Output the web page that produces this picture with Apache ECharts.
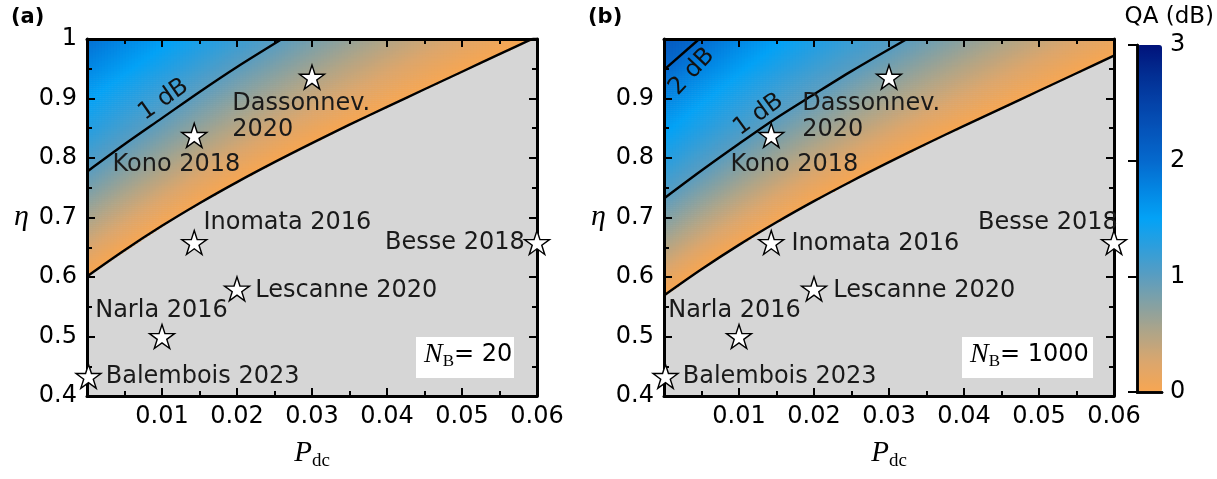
<!DOCTYPE html>
<html><head><meta charset="utf-8">
<script src="https://cdn.jsdelivr.net/npm/echarts@6/dist/echarts.min.js"></script>
<style>html,body{margin:0;padding:0;background:#fff}#c{width:1217px;height:479px}</style>
</head><body><div id="c"></div>
<script>
// ---------------- data ----------------
const experiments = ['Balembois 2023','Narla 2016','Lescanne 2020','Inomata 2016','Besse 2018','Kono 2018','Dassonnev.\n2020'];
const expPdc = [0.0002, 0.01, 0.02, 0.0143, 0.06, 0.0143, 0.03];
const expEta = [0.433, 0.50, 0.58, 0.658, 0.658, 0.838, 0.936];

const xTickValues = [0, 0.01, 0.02, 0.03, 0.04, 0.05, 0.06];
const xTickLabels = ['', '0.01', '0.02', '0.03', '0.04', '0.05', '0.06'];
const yTickValues = [0.4, 0.5, 0.6, 0.7, 0.8, 0.9, 1.0];
const yTickLabelsA = ['0.4', '0.5', '0.6', '0.7', '0.8', '0.9', '1'];
const yTickLabelsB = ['0.4', '0.5', '0.6', '0.7', '0.8', '0.9', ''];
const cbTickLabels = ['0', '1', '2', '3'];

// contour lines [Pdc, eta] (QA = 0 dB, 1 dB, 2 dB)
const contourA0 = [[0,0.601],[0.005,0.645],[0.01,0.686],[0.015,0.724],[0.02,0.7595],[0.025,0.793],[0.03,0.825],[0.035,0.856],[0.04,0.886],[0.045,0.9155],[0.05,0.945],[0.055,0.9745],[0.06,1.004]];
const contourA1 = [[0,0.777],[0.005,0.823],[0.01,0.867],[0.015,0.911],[0.02,0.953],[0.026,1.0]];
const contourB0 = [[0,0.569],[0.005,0.613],[0.01,0.654],[0.015,0.692],[0.02,0.7275],[0.025,0.761],[0.03,0.793],[0.035,0.824],[0.04,0.854],[0.045,0.8835],[0.05,0.913],[0.055,0.9425],[0.06,0.972]];
const contourB1 = [[0,0.732],[0.005,0.779],[0.01,0.824],[0.0146,0.864],[0.02,0.907],[0.025,0.946],[0.0324,1.0]];
const contourB2 = [[0,0.948],[0.0047,1.0]];
// levels lying above the frame, estimated from the colour at the top edge
const hiddenA2 = [[0,1.012],[0.01,1.106]];
const hiddenB3 = [[0,1.20],[0.01,1.30]];

const contourLabelsA = [{text:'1 dB', p:0.0102, e:0.898, rot:35}];
const contourLabelsB = [{text:'1 dB', p:0.0126, e:0.873, rot:36},{text:'2 dB', p:0.0037, e:0.945, rot:47}];

const qaColors = ['#F7A652','#DCA66C','#B2A586','#86A1A2','#5A9DC0','#2E9EDC','#03A2F6','#0386E3','#0569CD','#0555BB','#0442A8','#022D92','#01137A'];

// ---------------- build heatmap table from the contour readings ----------------
const NX = 150, NY = 180;
function interp(curve, x) {
  let i = curve.length - 2;
  for (let k = 0; k < curve.length - 1; k++) { if (x <= curve[k+1][0]) { i = k; break; } }
  const a = curve[i], b = curve[i+1];
  return a[1] + (b[1]-a[1])*(x-a[0])/(b[0]-a[0]);
}
function buildField(levels) {
  const out = [];
  for (let i = 0; i < NX; i++) {
    const p = (i + 0.5) / NX * 0.06;
    const h = levels.map(c => interp(c, p));
    for (let j = 0; j < NY; j++) {
      const e = 0.4 + (j + 0.5) / NY * 0.6;
      if (e < h[0]) continue;
      let k = 0;
      while (k < h.length - 2 && e > h[k+1]) k++;
      const v = k + (e - h[k]) / (h[k+1] - h[k]);
      out.push([i, j, +v.toFixed(3)]);
    }
  }
  return out;
}
const fieldA = buildField([contourA0, contourA1, hiddenA2]);
const fieldB = buildField([contourB0, contourB1, contourB2, hiddenB3]);
const catX = Array.from({length: NX}, (_, i) => i);
const catY = Array.from({length: NY}, (_, j) => j);

// ---------------- layout / style ----------------
const FONT = 'DejaVu Sans';
const SERIF = 'Liberation Serif';
const TXT = '#1a1a1a';
const G = {
  a: {left: 87, top: 39, width: 450, height: 357},
  b: {left: 664, top: 39, width: 450, height: 357},
  cb: {left: 1137, top: 45, width: 25, height: 347}
};
// label placement for each experiment: [position, dx, dy]
const labelPosA = {
  'Balembois 2023': ['right', 0, 0], 'Narla 2016': ['right', -84, -26], 'Lescanne 2020': ['right', 1, 2],
  'Inomata 2016': ['right', -8, -20], 'Besse 2018': ['left', 5, 0], 'Kono 2018': ['right', -99, 29],
  'Dassonnev.\n2020': ['right', -97, 40]
};
const labelPosB = {
  'Balembois 2023': ['right', 0, 0], 'Narla 2016': ['right', -88, -26], 'Lescanne 2020': ['right', 2, 2],
  'Inomata 2016': ['right', 3, 1], 'Besse 2018': ['left', 21, -20], 'Kono 2018': ['right', -58, 29],
  'Dassonnev.\n2020': ['right', -104, 40]
};
const STAR = 'path://M0,-10L2.245,-3.09L9.511,-3.09L3.633,1.18L5.878,8.09L0,3.82L-5.878,8.09L-3.633,1.18L-9.511,-3.09L-2.245,-3.09Z';

function lookup(vals, labels) {
  return v => { for (let i = 0; i < vals.length; i++) if (Math.abs(v - vals[i]) < 1e-9) return labels[i]; return ''; };
}
const frameLine = {show: true, onZero: false, lineStyle: {color: '#000', width: 3}};
const tickStyle = {show: true, inside: true, length: 8, lineStyle: {color: '#000', width: 2}};
const minorStyle = {show: true, splitNumber: 2, length: 5, lineStyle: {color: '#000', width: 2}};

function xAxesFor(gi) {
  return [
    {type: 'value', gridIndex: gi, position: 'bottom', min: 0, max: 0.06, interval: 0.01, z: 5,
     axisLine: frameLine, axisTick: tickStyle, minorTick: minorStyle, splitLine: {show: false},
     axisLabel: {formatter: lookup(xTickValues, xTickLabels), fontFamily: FONT, fontSize: 24, color: '#000', margin: 9},
     name: '{p|P}{s|dc}', nameLocation: 'middle', nameGap: 40,
     nameTextStyle: {rich: {p: {fontFamily: SERIF, fontStyle: 'italic', fontSize: 29, color: '#000'},
                            s: {fontFamily: SERIF, fontSize: 19, color: '#000', padding: [16, 0, 0, 0]}}}},
    {type: 'value', gridIndex: gi, position: 'top', min: 0, max: 0.06, interval: 0.01, z: 5,
     axisLine: frameLine, axisTick: tickStyle, minorTick: minorStyle, splitLine: {show: false}, axisLabel: {show: false}}
  ];
}
function yAxesFor(gi, labels) {
  return [
    {type: 'value', gridIndex: gi, position: 'left', min: 0.4, max: 1.0, interval: 0.1, z: 5,
     axisLine: frameLine, axisTick: tickStyle, minorTick: minorStyle, splitLine: {show: false},
     axisLabel: {formatter: lookup(yTickValues, labels), fontFamily: FONT, fontSize: 24, color: '#000', margin: 10},
     name: 'η', nameLocation: 'middle', nameRotate: 0, nameGap: 58,
     nameTextStyle: {fontFamily: SERIF, fontStyle: 'italic', fontSize: 30, color: '#000'}},
    {type: 'value', gridIndex: gi, position: 'right', min: 0.4, max: 1.0, interval: 0.1, z: 5,
     axisLine: frameLine, axisTick: tickStyle, minorTick: minorStyle, splitLine: {show: false}, axisLabel: {show: false}}
  ];
}
function starSeries(xi, yi, posMap) {
  return {
    type: 'scatter', xAxisIndex: xi, yAxisIndex: yi, z: 10, symbol: STAR, symbolSize: [25, 24],
    itemStyle: {color: '#fff', borderColor: '#000', borderWidth: 1.4, opacity: 1},
    emphasis: {disabled: true},
    data: experiments.map((n, k) => {
      const lp = posMap[n];
      return {name: n, value: [expPdc[k], expEta[k]],
        label: {show: true, formatter: n, position: lp[0], distance: 4, offset: [lp[1], lp[2]], opacity: 1,
                fontFamily: FONT, fontSize: 24, color: TXT, align: lp[0] === 'left' ? 'right' : 'left', lineHeight: 26}};
    })
  };
}
function contourSeries(xi, yi, data) {
  return {type: 'line', xAxisIndex: xi, yAxisIndex: yi, z: 3, data: data, smooth: 0.3, symbol: 'none',
          lineStyle: {color: '#000', width: 2.4}, clip: true, emphasis: {disabled: true}};
}
function contourLabelSeries(xi, yi, list) {
  return {type: 'scatter', xAxisIndex: xi, yAxisIndex: yi, z: 4, symbolSize: 0, itemStyle: {opacity: 1},
    emphasis: {disabled: true},
    data: list.map(o => ({value: [o.p, o.e], label: {show: true, formatter: o.text, rotate: o.rot, position: 'inside',
      fontFamily: FONT, fontSize: 24, color: '#111', opacity: 1}}))};
}
function nbBox(x, y, w, val) {
  return {type: 'group', left: x, top: y, children: [
    {type: 'rect', shape: {x: 0, y: 0, width: w, height: 41}, style: {fill: '#fff'}},
    {type: 'text', left: 8, top: 4, style: {text: '{n|N}{b|B}{t|= ' + val + '}', rich: {
      n: {fontFamily: SERIF, fontStyle: 'italic', fontSize: 28, fill: '#000'},
      b: {fontFamily: SERIF, fontSize: 17, fill: '#000', padding: [14, 0, 0, 0]},
      t: {fontFamily: FONT, fontSize: 24, fill: '#000'}}}}
  ]};
}

const option = {
  animation: false,
  backgroundColor: '#fff',
  grid: [
    Object.assign({show: true, backgroundColor: '#D6D6D6', borderWidth: 0}, G.a),
    Object.assign({show: true, backgroundColor: '#D6D6D6', borderWidth: 0}, G.b),
    Object.assign({}, G.a),
    Object.assign({}, G.b),
    Object.assign({}, G.cb)
  ],
  xAxis: [
    {type: 'category', gridIndex: 0, data: catX, show: false},
    {type: 'category', gridIndex: 1, data: catX, show: false},
    ...xAxesFor(2), ...xAxesFor(3),
    {type: 'value', gridIndex: 4, position: 'bottom', min: 0, max: 1, z: 10, axisLine: {show: true, lineStyle: {color: '#000', width: 2.5}}, axisTick: {show: false}, axisLabel: {show: false}, splitLine: {show: false}},
    {type: 'value', gridIndex: 4, position: 'top', min: 0, max: 1, z: 10, axisLine: {show: true, lineStyle: {color: '#000', width: 2.5}}, axisTick: {show: false}, axisLabel: {show: false}, splitLine: {show: false}}
  ],
  yAxis: [
    {type: 'category', gridIndex: 0, data: catY, show: false},
    {type: 'category', gridIndex: 1, data: catY, show: false},
    ...yAxesFor(2, yTickLabelsA), ...yAxesFor(3, yTickLabelsB),
    {type: 'value', gridIndex: 4, position: 'left', min: 0, max: 3, z: 10, axisLine: {show: true, lineStyle: {color: '#000', width: 2.5}}, axisTick: {show: false}, axisLabel: {show: false}, splitLine: {show: false}},
    {type: 'value', gridIndex: 4, position: 'right', min: 0, max: 3, interval: 1, z: 10,
     axisLine: {show: true, lineStyle: {color: '#000', width: 2.5}},
     axisTick: {show: true, inside: true, length: 9, lineStyle: {color: '#000', width: 2}},
     axisLabel: {formatter: v => cbTickLabels[Math.round(v)], fontFamily: FONT, fontSize: 24, color: '#000', margin: 8},
     splitLine: {show: false}}
  ],
  visualMap: {
    type: 'continuous', min: 0, max: 3, dimension: 2, seriesIndex: [0, 1], calculable: false, hoverLink: false,
    orient: 'vertical', left: G.cb.left, top: G.cb.top, itemWidth: G.cb.width, itemHeight: G.cb.height,
    padding: 0, text: null, showLabel: false, inRange: {color: qaColors}, outOfRange: {color: '#D6D6D6'}
  },
  title: [
    {text: '(a)', left: 6, top: 2, textStyle: {fontFamily: FONT, fontWeight: 'bold', fontSize: 21, color: '#000'}},
    {text: '(b)', left: 583, top: 2, textStyle: {fontFamily: FONT, fontWeight: 'bold', fontSize: 21, color: '#000'}}
  ],
  graphic: [
    nbBox(416, 337, 98, '20'), nbBox(962, 337, 131, '1000'),
    {type: 'text', right: 3, top: 6, style: {text: 'QA (dB)', fontFamily: FONT, fontSize: 23, fill: '#000'}}
  ],
  series: [
    {type: 'heatmap', xAxisIndex: 0, yAxisIndex: 0, data: fieldA, progressive: 0, z: 1, emphasis: {disabled: true}},
    {type: 'heatmap', xAxisIndex: 1, yAxisIndex: 1, data: fieldB, progressive: 0, z: 1, emphasis: {disabled: true}},
    contourSeries(2, 2, contourA0), contourSeries(2, 2, contourA1),
    contourSeries(4, 4, contourB0), contourSeries(4, 4, contourB1), contourSeries(4, 4, contourB2),
    contourLabelSeries(2, 2, contourLabelsA), contourLabelSeries(4, 4, contourLabelsB),
    starSeries(2, 2, labelPosA), starSeries(4, 4, labelPosB)
  ]
};
const chart = echarts.init(document.getElementById('c'), null, {renderer: 'canvas'});
chart.setOption(option);
</script>
</body></html>
